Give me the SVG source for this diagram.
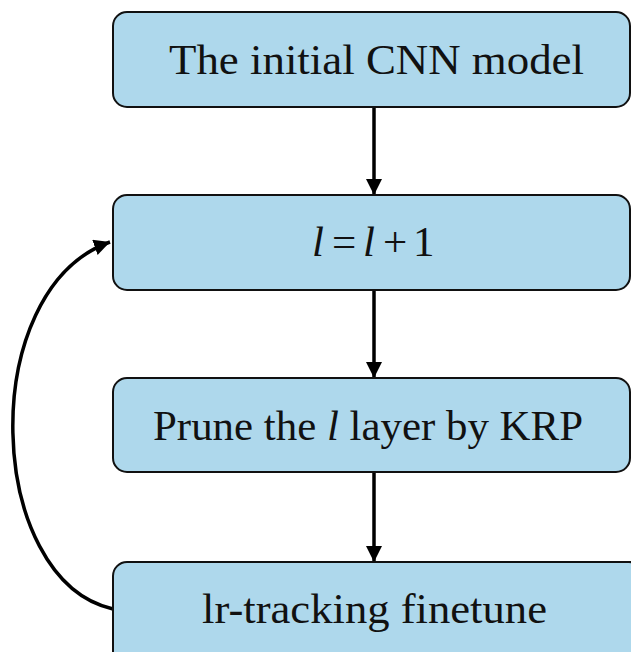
<svg xmlns="http://www.w3.org/2000/svg" width="631" height="652" viewBox="0 0 631 652">
  <style>
    .box { fill: #AED8EC; stroke: #111; stroke-width: 2; }
    .lbl { font-family: "Liberation Serif", "Times New Roman", serif; font-size: 43px; fill: #111; }
    .it { font-style: italic; }
    .conn { fill: none; stroke: #000; stroke-width: 3.5; }
  </style>
  <defs>
    <marker id="ah" markerUnits="userSpaceOnUse" markerWidth="17" markerHeight="17" refX="16" refY="8" orient="auto">
      <path d="M0,0 L16,8 L0,16 z" fill="#000"/>
    </marker>
  </defs>
  <rect width="631" height="652" fill="#fff"/>
  <g id="connectors">
    <line class="conn" x1="374" y1="108" x2="374" y2="195" marker-end="url(#ah)"/>
    <line class="conn" x1="374" y1="291" x2="374" y2="378" marker-end="url(#ah)"/>
    <line class="conn" x1="374" y1="473" x2="374" y2="562" marker-end="url(#ah)"/>
    <path class="conn" d="M113,609 C-15,580 -25,290 110,242" marker-end="url(#ah)"/>
  </g>
  <g id="node1">
    <rect class="box" x="113" y="12" width="517" height="95" rx="14"/>
    <text class="lbl" x="169" y="74" textLength="415" lengthAdjust="spacingAndGlyphs">The initial CNN model</text>
  </g>
  <g id="node2">
    <rect class="box" x="113" y="195" width="517" height="95" rx="14"/>
    <text class="lbl it" x="312" y="256">l</text>
    <text class="lbl" x="332" y="256">=</text>
    <text class="lbl it" x="363" y="256">l</text>
    <text class="lbl" x="383" y="256">+</text>
    <text class="lbl" x="413" y="256">1</text>
  </g>
  <g id="node3">
    <rect class="box" x="113" y="378" width="517" height="94" rx="14"/>
    <text class="lbl" x="153" y="440" textLength="430" lengthAdjust="spacingAndGlyphs">Prune the <tspan class="it">l</tspan> layer by KRP</text>
  </g>
  <g id="node4">
    <rect class="box" x="113" y="562" width="530" height="110" rx="14"/>
    <text class="lbl" x="202" y="623" textLength="345" lengthAdjust="spacingAndGlyphs">lr-tracking finetune</text>
  </g>
</svg>
